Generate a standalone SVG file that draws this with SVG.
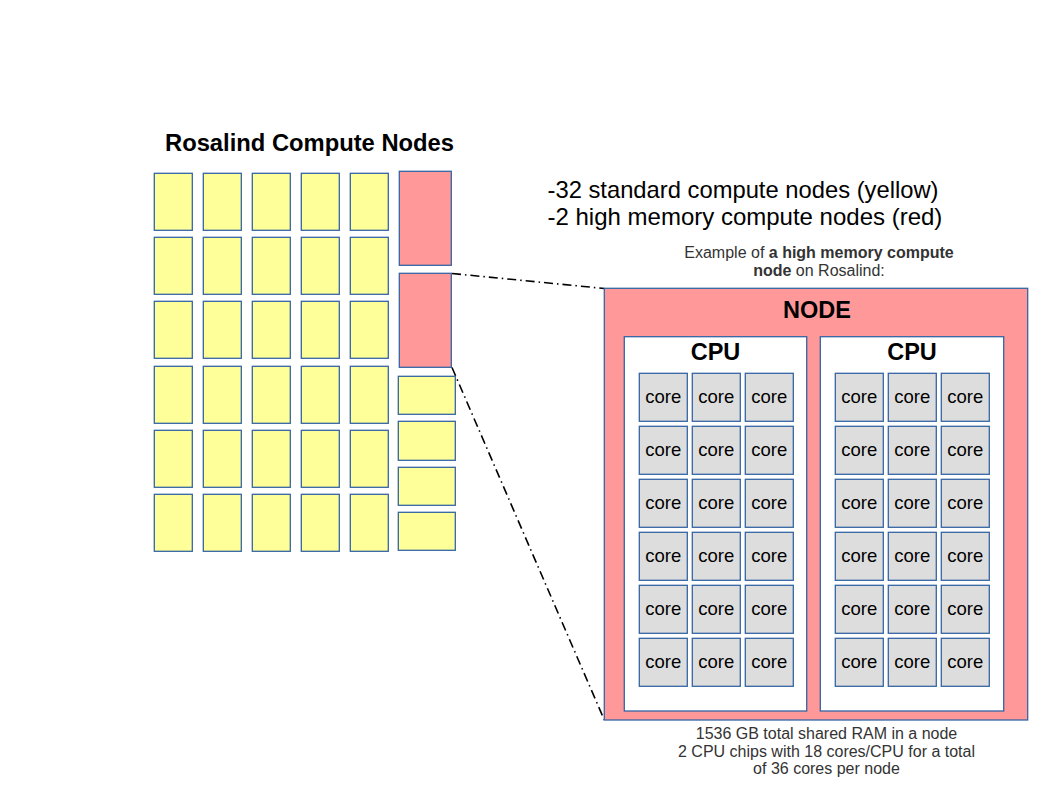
<svg xmlns="http://www.w3.org/2000/svg" width="1058" height="794" viewBox="0 0 1058 794">
<defs>
<style>
text{font-family:"Liberation Sans",Arial,sans-serif;}
.y{fill:#ffff99;stroke:#3465a4;stroke-width:1.3;}
.r{fill:#ff9999;stroke:#3465a4;stroke-width:1.3;}
.w{fill:#ffffff;stroke:#3465a4;stroke-width:1.3;}
.c{fill:#dddddd;stroke:#3465a4;stroke-width:1.3;}
.ct{font-size:18.5px;fill:#000;text-anchor:middle;}
.big{font-size:23.5px;font-weight:bold;fill:#000;text-anchor:middle;}
.sm{font-size:16px;fill:#333;text-anchor:middle;}
.dd{fill:none;stroke:#000;stroke-width:1.6;stroke-dasharray:9,4,1.5,4;}
</style>
<g id="core">
<rect class="c" x="0" y="0" width="48" height="48"/>
<text class="ct" x="24" y="30">core</text>
</g>
<g id="ycell"><rect class="y" x="0" y="0" width="38" height="57"/></g>
</defs>
<rect width="1058" height="794" fill="#fff"/>
<text id="title" class="big" x="309.5" y="151" font-size="24" textLength="289" lengthAdjust="spacingAndGlyphs">Rosalind Compute Nodes</text>
<g id="legend" fill="#000">
<text x="547.5" y="198" font-size="24" textLength="391" lengthAdjust="spacingAndGlyphs">-32 standard compute nodes (yellow)</text>
<text x="547.5" y="225" font-size="24">-2 high memory compute nodes (red)</text>
</g>
<g id="example-caption">
<text class="sm" x="819" y="258">Example of <tspan font-weight="bold">a high memory compute</tspan></text>
<text class="sm" x="819" y="275.5"><tspan font-weight="bold">node</tspan> on Rosalind:</text>
</g>
<g id="standard-nodes">
<use href="#ycell" x="154.3" y="173.3"/><use href="#ycell" x="203.3" y="173.3"/><use href="#ycell" x="252.3" y="173.3"/><use href="#ycell" x="301.3" y="173.3"/><use href="#ycell" x="350.3" y="173.3"/>
<use href="#ycell" x="154.3" y="237.3"/><use href="#ycell" x="203.3" y="237.3"/><use href="#ycell" x="252.3" y="237.3"/><use href="#ycell" x="301.3" y="237.3"/><use href="#ycell" x="350.3" y="237.3"/>
<use href="#ycell" x="154.3" y="301.3"/><use href="#ycell" x="203.3" y="301.3"/><use href="#ycell" x="252.3" y="301.3"/><use href="#ycell" x="301.3" y="301.3"/><use href="#ycell" x="350.3" y="301.3"/>
<use href="#ycell" x="154.3" y="366.3"/><use href="#ycell" x="203.3" y="366.3"/><use href="#ycell" x="252.3" y="366.3"/><use href="#ycell" x="301.3" y="366.3"/><use href="#ycell" x="350.3" y="366.3"/>
<use href="#ycell" x="154.3" y="430.3"/><use href="#ycell" x="203.3" y="430.3"/><use href="#ycell" x="252.3" y="430.3"/><use href="#ycell" x="301.3" y="430.3"/><use href="#ycell" x="350.3" y="430.3"/>
<use href="#ycell" x="154.3" y="494.3"/><use href="#ycell" x="203.3" y="494.3"/><use href="#ycell" x="252.3" y="494.3"/><use href="#ycell" x="301.3" y="494.3"/><use href="#ycell" x="350.3" y="494.3"/>
<rect class="y" x="398.3" y="376.3" width="57" height="38"/>
<rect class="y" x="398.3" y="421.3" width="57" height="39"/>
<rect class="y" x="398.3" y="467.3" width="57" height="38"/>
<rect class="y" x="398.3" y="512.3" width="57" height="38"/>
</g>
<g id="highmem-1"><rect class="r" x="399.3" y="171.3" width="52" height="94"/></g>
<g id="highmem-2"><rect class="r" x="399.3" y="273.3" width="52" height="94"/></g>
<g id="connectors">
<line class="dd" x1="452" y1="273.5" x2="604.3" y2="288.5"/>
<line class="dd" x1="452" y1="367.5" x2="604.3" y2="720"/>
</g>
<g id="node">
<rect class="r" x="604.3" y="288.3" width="423.4" height="431.7"/>
<text class="big" x="817" y="318">NODE</text>
</g>
<g id="cpu-1">
<rect class="w" x="624.3" y="336.7" width="182.4" height="374.3"/>
<text class="big" x="715.5" y="360">CPU</text>
<use href="#core" x="639.3" y="373.3"/><use href="#core" x="692.3" y="373.3"/><use href="#core" x="745.3" y="373.3"/>
<use href="#core" x="639.3" y="426.3"/><use href="#core" x="692.3" y="426.3"/><use href="#core" x="745.3" y="426.3"/>
<use href="#core" x="639.3" y="479.3"/><use href="#core" x="692.3" y="479.3"/><use href="#core" x="745.3" y="479.3"/>
<use href="#core" x="639.3" y="532.3"/><use href="#core" x="692.3" y="532.3"/><use href="#core" x="745.3" y="532.3"/>
<use href="#core" x="639.3" y="585.3"/><use href="#core" x="692.3" y="585.3"/><use href="#core" x="745.3" y="585.3"/>
<use href="#core" x="639.3" y="638.3"/><use href="#core" x="692.3" y="638.3"/><use href="#core" x="745.3" y="638.3"/>
</g>
<g id="cpu-2">
<rect class="w" x="820.3" y="336.7" width="183.4" height="374.3"/>
<text class="big" x="912" y="360">CPU</text>
<use href="#core" x="835.3" y="373.3"/><use href="#core" x="888.3" y="373.3"/><use href="#core" x="941.3" y="373.3"/>
<use href="#core" x="835.3" y="426.3"/><use href="#core" x="888.3" y="426.3"/><use href="#core" x="941.3" y="426.3"/>
<use href="#core" x="835.3" y="479.3"/><use href="#core" x="888.3" y="479.3"/><use href="#core" x="941.3" y="479.3"/>
<use href="#core" x="835.3" y="532.3"/><use href="#core" x="888.3" y="532.3"/><use href="#core" x="941.3" y="532.3"/>
<use href="#core" x="835.3" y="585.3"/><use href="#core" x="888.3" y="585.3"/><use href="#core" x="941.3" y="585.3"/>
<use href="#core" x="835.3" y="638.3"/><use href="#core" x="888.3" y="638.3"/><use href="#core" x="941.3" y="638.3"/>
</g>
<g id="node-caption">
<text class="sm" x="826.5" y="739">1536 GB total shared RAM in a node</text>
<text class="sm" x="826.5" y="756.5">2 CPU chips with 18 cores/CPU for a total</text>
<text class="sm" x="826.5" y="774">of 36 cores per node</text>
</g>
</svg>
